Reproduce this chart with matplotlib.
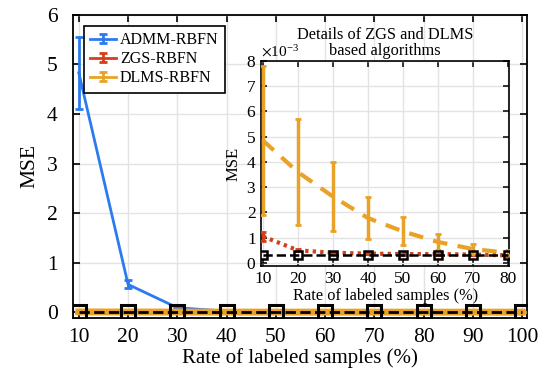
import matplotlib
matplotlib.use('Agg')
import matplotlib.pyplot as plt
from matplotlib.ticker import ScalarFormatter
from matplotlib.legend_handler import HandlerErrorbar
from matplotlib.container import ErrorbarContainer

plt.rcParams['font.family'] = ['Liberation Serif', 'DejaVu Serif']
plt.rcParams['mathtext.fontset'] = 'stix'

# Datos del gráfico principal
tasas = [10, 20, 30, 40, 50, 60, 70, 80, 90, 100]
admm_mse = [4.83, 0.56, 0.09, 0.02, 0.01, 0.008, 0.006, 0.005, 0.004, 0.003]
admm_err = [0.72, 0.08, 0.02, 0.005, 0.003, 0.002, 0.002, 0.001, 0.001, 0.001]
zgs_mse = [1.05e-3, 0.5e-3, 0.4e-3, 0.37e-3, 0.35e-3, 0.35e-3, 0.33e-3, 0.3e-3, 0.3e-3, 0.3e-3]
zgs_err = [0.17e-3, 0.04e-3, 0.03e-3, 0.02e-3, 0.02e-3, 0.02e-3, 0.02e-3, 0.02e-3, 0.02e-3, 0.02e-3]
dlms_mse = [4.85e-3, 3.6e-3, 2.63e-3, 1.78e-3, 1.25e-3, 0.83e-3, 0.55e-3, 0.4e-3, 0.35e-3, 0.32e-3]
dlms_err = [2.95e-3, 2.1e-3, 1.38e-3, 0.83e-3, 0.55e-3, 0.33e-3, 0.2e-3, 0.1e-3, 0.08e-3, 0.05e-3]
base_mse = [0.3e-3] * 10

# El recuadro muestra de 10% a 80%
n_in = 8

azul = '#2B7BF0'
rojo = '#D4401A'
naranja = '#E9A227'

fig = plt.figure(figsize=(5.44, 3.81), dpi=100)
ax = fig.add_axes([0.134, 0.165, 0.835, 0.796])

ax.errorbar(tasas, admm_mse, yerr=admm_err, color=azul, lw=2, capsize=3,
            elinewidth=2, capthick=2, label='ADMM-RBFN', zorder=3)
ax.errorbar(tasas, zgs_mse, yerr=zgs_err, color=rojo, lw=2, capsize=3,
            elinewidth=2, capthick=2, label='ZGS-RBFN', zorder=4)
ax.errorbar(tasas, dlms_mse, yerr=dlms_err, color=naranja, lw=2, capsize=3,
            elinewidth=2, capthick=2, label='DLMS-RBFN', zorder=5)
ax.plot(tasas, dlms_mse, color=naranja, lw=5, zorder=5)
ax.plot(tasas, base_mse, color='black', ls='--', lw=2, marker='s', ms=10,
        mfc='none', mew=2.2, zorder=6)

ax.set_xlim(8.8, 101)
ax.set_ylim(-0.12, 6)
ax.set_xticks(tasas)
ax.set_yticks(range(0, 7))
ax.tick_params(direction='in', top=True, right=True, labelsize=15.5, length=5, width=1.2)
ax.tick_params(axis='y', pad=11)
ax.tick_params(axis='x', pad=7)
ax.grid(True, color='#e3e3e3', lw=1)
ax.set_axisbelow(True)
for s in ax.spines.values():
    s.set_linewidth(1.3)
ax.set_xlabel('Rate of labeled samples (%)', fontsize=15, labelpad=1)
ax.set_ylabel('MSE', fontsize=15.5, labelpad=5)
leg = ax.legend(loc='upper left', fontsize=11.5, frameon=True, fancybox=False,
                edgecolor='black', framealpha=1, borderpad=0.4, handlelength=1.6,
                labelspacing=0.18, borderaxespad=0.7, handletextpad=0.25,
                handler_map={ErrorbarContainer: HandlerErrorbar(yerr_size=0.28)})
leg.get_frame().set_linewidth(1.2)

# Recuadro con detalle
ins = fig.add_axes([0.480, 0.302, 0.456, 0.538])
ins.errorbar(tasas[:n_in], zgs_mse[:n_in], yerr=zgs_err[:n_in], color=rojo, lw=3,
             ls=(0, (0.8, 1.0)), capsize=2, elinewidth=2.5, capthick=2, zorder=3)
ins.errorbar(tasas[:n_in], dlms_mse[:n_in], yerr=dlms_err[:n_in], color=naranja, lw=3,
             ls=(0, (3.5, 2.5)), capsize=2, elinewidth=2.5, capthick=2, zorder=4)
ins.plot(tasas[:n_in], base_mse[:n_in], color='black', ls='--', lw=1.8, marker='s',
         ms=6, mfc='none', mew=1.8, zorder=5)
ins.set_xlim(9.5, 80.4)
ins.set_ylim(-0.12e-3, 8e-3)
ins.set_xticks(tasas[:n_in])
ins.set_yticks([i * 1e-3 for i in range(9)])
fmt = ScalarFormatter(useMathText=True)
fmt.set_powerlimits((-2, 2))
ins.yaxis.set_major_formatter(fmt)
ins.yaxis.get_offset_text().set_fontsize(11)
ins.tick_params(direction='in', top=True, right=True, labelsize=12.5, length=4, width=1.1)
ins.grid(True, color='#e3e3e3', lw=1)
ins.set_axisbelow(True)
for s in ins.spines.values():
    s.set_linewidth(1.2)
ins.set_xlabel('Rate of labeled samples (%)', fontsize=11.8, labelpad=1)
ins.set_ylabel('MSE', fontsize=12, labelpad=3)
ins.set_title('Details of ZGS and DLMS\nbased algorithms', fontsize=11.8,
              linespacing=1.05, y=1.0, pad=4)

fig.savefig('out.png', dpi=100)
